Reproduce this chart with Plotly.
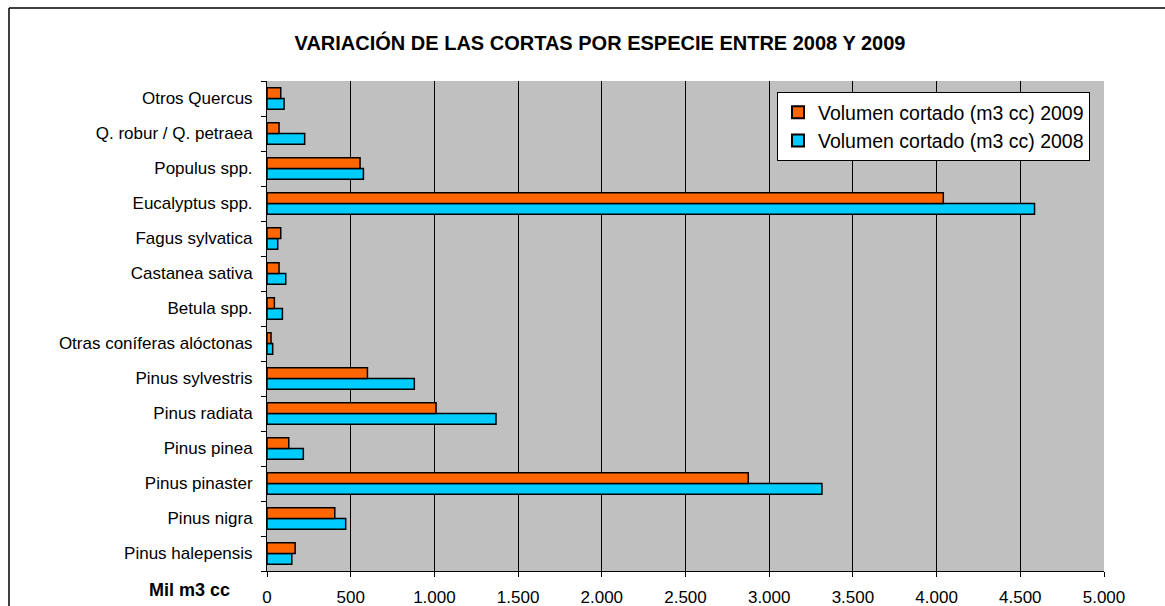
import plotly.graph_objects as go

# Categories listed bottom-to-top
species = [
    "Pinus halepensis", "Pinus nigra", "Pinus pinaster", "Pinus pinea",
    "Pinus radiata", "Pinus sylvestris", "Otras coníferas alóctonas",
    "Betula spp.", "Castanea sativa", "Fagus sylvatica", "Eucalyptus spp.",
    "Populus spp.", "Q. robur / Q. petraea", "Otros Quercus",
]
vol_2009 = [168, 405, 2875, 130, 1010, 600, 24, 44, 72, 82, 4040, 556, 72, 82]
vol_2008 = [148, 470, 3315, 217, 1368, 880, 34, 92, 112, 64, 4585, 576, 225, 102]
x_ticks = [0, 500, 1000, 1500, 2000, 2500, 3000, 3500, 4000, 4500, 5000]

FONT = "Arial, Liberation Sans, sans-serif"

fig = go.Figure()
fig.add_trace(go.Bar(
    y=species, x=vol_2008, orientation="h",
    name="Volumen cortado (m3 cc) 2008",
    marker=dict(color="#00CCFF", line=dict(color="black", width=1.5)),
))
fig.add_trace(go.Bar(
    y=species, x=vol_2009, orientation="h",
    name="Volumen cortado (m3 cc) 2009",
    marker=dict(color="#FF6600", line=dict(color="black", width=1.5)),
))

L, R, T, B = 267, 61, 81, 35
W, H = 1165, 606
pw, ph = W - L - R, H - T - B

fig.update_layout(
    width=W, height=H,
    margin=dict(l=L, r=R, t=T, b=B, pad=0, autoexpand=False),
    paper_bgcolor="white",
    plot_bgcolor="#C0C0C0",
    barmode="group",
    bargap=0.38,
    bargroupgap=0,
    separators=",.",
    font=dict(family=FONT, size=17, color="black"),
    title=dict(
        text="<b>VARIACIÓN DE LAS CORTAS POR ESPECIE ENTRE 2008 Y 2009</b>",
        x=(600 - 0) / W, xanchor="center", y=1 - 43 / H, yanchor="middle",
        font=dict(family=FONT, size=20, color="black"),
    ),
    legend=dict(
        x=(777 - L) / pw, y=(H - B - 92) / ph, xanchor="left", yanchor="top",
        bgcolor="white", bordercolor="black", borderwidth=1,
        traceorder="reversed",
        font=dict(family=FONT, size=19.5, color="black"),
        itemsizing="constant",
        tracegroupgap=0,
    ),
    xaxis=dict(
        range=[0, 5000], tickvals=x_ticks, tickformat=",d",
        showgrid=True, gridcolor="black", gridwidth=1,
        showline=True, linecolor="black", linewidth=1,
        ticks="outside", ticklen=5, tickcolor="black",
        ticklabelstandoff=6,
        zeroline=False, automargin=False,
        tickfont=dict(family=FONT, size=17),
    ),
    yaxis=dict(
        categoryorder="array", categoryarray=species,
        showline=True, linecolor="black", linewidth=1,
        ticks="outside", ticklen=5, tickcolor="black",
        tickson="boundaries",
        ticklabelstandoff=10,
        showgrid=False, automargin=False,
        tickfont=dict(family=FONT, size=17),
    ),
    annotations=[dict(
        text="<b>Mil m3 cc</b>", xref="paper", yref="paper",
        x=(189 - L) / pw, y=-(590 - (H - B)) / ph,
        xanchor="center", yanchor="middle", showarrow=False,
        font=dict(family=FONT, size=18, color="black"),
    )],
    shapes=[
        dict(type="line", xref="paper", yref="paper",
             x0=(9 - L) / pw, x1=(9 - L) / pw,
             y0=-(H + 20 - (H - B)) / ph, y1=(H - B - 8) / ph,
             line=dict(color="black", width=1.5), layer="below"),
        dict(type="line", xref="paper", yref="paper",
             x0=(9 - L) / pw, x1=(W + 20 - L) / pw,
             y0=(H - B - 8) / ph, y1=(H - B - 8) / ph,
             line=dict(color="black", width=1.5), layer="below"),
    ],
)

fig.write_html(
    "out.html",
    config={"displayModeBar": False},
    post_script="document.body.style.margin='0';document.body.style.overflow='hidden';",
)
